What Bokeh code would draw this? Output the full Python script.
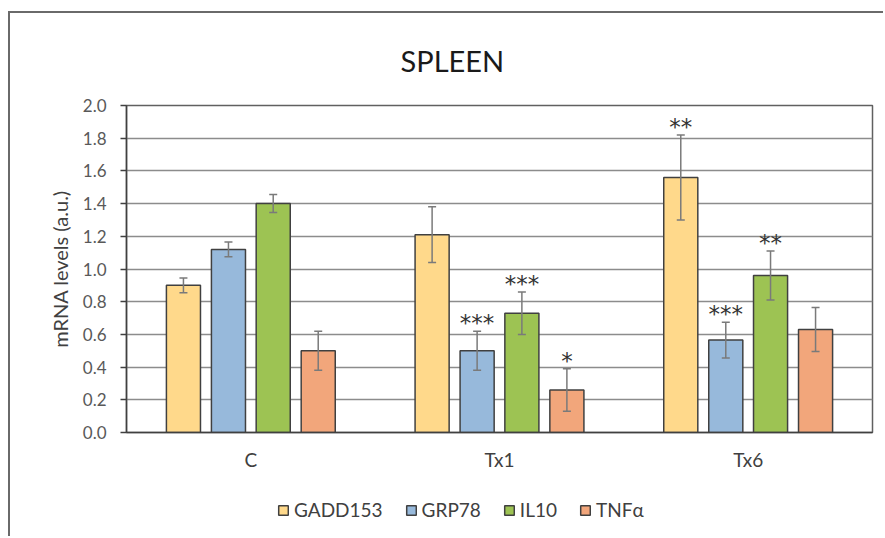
from bokeh.plotting import figure
from bokeh.models import (FactorRange, ColumnDataSource, Whisker, TeeHead, Legend,
                          LegendItem, Range1d, FixedTicker, NumeralTickFormatter, Spacer)
from bokeh.layouts import row, column
from bokeh.transform import dodge
from bokeh.core.properties import value
from bokeh.embed import file_html
from bokeh.resources import INLINE

groups = ["C", "Tx1", "Tx6"]
genes = ["GADD153", "GRP78", "IL10", "TNFα"]
gadd153 = [0.90, 1.21, 1.56]
grp78 = [1.12, 0.50, 0.565]
il10 = [1.40, 0.73, 0.96]
tnfa = [0.50, 0.26, 0.63]
gadd153_err = [0.045, 0.17, 0.26]
grp78_err = [0.045, 0.12, 0.11]
il10_err = [0.055, 0.13, 0.15]
tnfa_err = [0.12, 0.13, 0.135]
gadd153_sig = ["", "", "**"]
grp78_sig = ["", "***", "***"]
il10_sig = ["", "***", "**"]
tnfa_sig = ["", "*", ""]
y_ticks = [0.0, 0.2, 0.4, 0.6, 0.8, 1.0, 1.2, 1.4, 1.6, 1.8, 2.0]

colors = ["#FFD98B", "#97B9DB", "#9DC353", "#F2A67B"]
series = [
    (genes[0], gadd153, gadd153_err, gadd153_sig, colors[0]),
    (genes[1], grp78, grp78_err, grp78_sig, colors[1]),
    (genes[2], il10, il10_err, il10_sig, colors[2]),
    (genes[3], tnfa, tnfa_err, tnfa_sig, colors[3]),
]
offsets = [-0.271, -0.09, 0.09, 0.271]
FONT = "Lato"
DARK = "#404040"
BORDER = "2px solid #6a6a6a"

p = figure(width=875, height=479, x_range=FactorRange(*groups), y_range=Range1d(0, 2),
           output_backend="svg", toolbar_location=None,
           min_border_left=116, min_border_right=13, min_border_top=91, min_border_bottom=60)
p.styles = {"border-left": BORDER, "border-top": BORDER}
p.background_fill_color = "white"
p.border_fill_color = "white"
p.outline_line_color = "#606060"
p.outline_line_width = 1.5

p.title.text = "SPLEEN"
p.title.align = "left"
p.title.offset = 274
p.title.standoff = 55
p.title.text_font = FONT
p.title.text_font_size = "29px"
p.title.text_font_style = "normal"
p.title.text_color = "#1a1a1a"

for (name, vals, errs, sigs, col), off in zip(series, offsets):
    src = ColumnDataSource(dict(
        group=groups, val=vals,
        up=[v + e for v, e in zip(vals, errs)],
        lo=[v - e for v, e in zip(vals, errs)],
        sig=sigs))
    xs = dodge("group", off, range=p.x_range)
    p.vbar(x=xs, top="val", width=0.137, source=src, fill_color=col,
           line_color=DARK, line_width=1.5)
    w = Whisker(base=xs, upper="up", lower="lo", source=src, level="overlay",
                line_color="#7a7a7a", line_width=1.5,
                upper_head=TeeHead(size=8, line_color="#7a7a7a", line_width=1.5),
                lower_head=TeeHead(size=8, line_color="#7a7a7a", line_width=1.5))
    p.add_layout(w)
    p.text(x=xs, y="up", text="sig", source=src, text_align="center",
           text_baseline="bottom", y_offset=5, text_font=value("DejaVu Sans"),
           text_font_size="23px", text_color="#333333", level="overlay")

p.xgrid.grid_line_color = None
p.ygrid.grid_line_color = "#8c8c8c"
p.ygrid.grid_line_width = 1.5
p.yaxis.ticker = FixedTicker(ticks=y_ticks)
p.yaxis.formatter = NumeralTickFormatter(format="0.0")
p.yaxis.axis_label = "mRNA levels (a.u.)"
p.yaxis.axis_label_text_font = FONT
p.yaxis.axis_label_text_font_size = "20px"
p.yaxis.axis_label_text_font_style = "normal"
p.yaxis.axis_label_text_color = DARK
p.yaxis.axis_label_standoff = 8
p.yaxis.major_label_standoff = 14
p.yaxis.major_tick_out = 6
p.yaxis.major_tick_in = 0
p.yaxis.minor_tick_out = 0
p.yaxis.minor_tick_in = 0

for ax in [p.xaxis, p.yaxis]:
    ax.axis_line_color = DARK
    ax.axis_line_width = 1.5
    ax.major_tick_line_color = DARK
    ax.major_tick_line_width = 1.5
    ax.major_label_text_font = FONT
    ax.major_label_text_font_size = "17px"
    ax.major_label_text_color = "#595959"

p.xaxis.major_tick_out = 0
p.xaxis.major_tick_in = 0
p.xaxis.major_label_standoff = 15
p.xaxis.major_label_text_color = DARK
p.xaxis.major_label_text_font_size = "19px"

# legend strip below the chart (proxy bars carry no drawable value)
lg = figure(width=875, height=46, x_range=(0, 1), y_range=(0, 1),
            x_axis_type=None, y_axis_type=None, output_backend="svg",
            toolbar_location=None, min_border=0)
lg.styles = {"border-left": BORDER}
lg.outline_line_color = None
lg.grid.visible = False
items = []
for name, col in zip(genes, colors):
    r = lg.vbar(x=[0.5], top=[float("nan")], width=0.1, fill_color=col,
                line_color=DARK, line_width=1.5)
    items.append(LegendItem(label=name, renderers=[r]))
legend = Legend(items=items, orientation="horizontal", location=(147, 11),
                border_line_alpha=0, background_fill_alpha=0,
                label_text_font=FONT, label_text_font_size="19px", label_text_color=DARK,
                glyph_width=12, glyph_height=12, spacing=22, label_standoff=5, padding=4)
lg.add_layout(legend, "center")

layout = row(Spacer(width=8), column(Spacer(height=11), p, lg))
open("out.html", "w").write(file_html(layout, INLINE))
